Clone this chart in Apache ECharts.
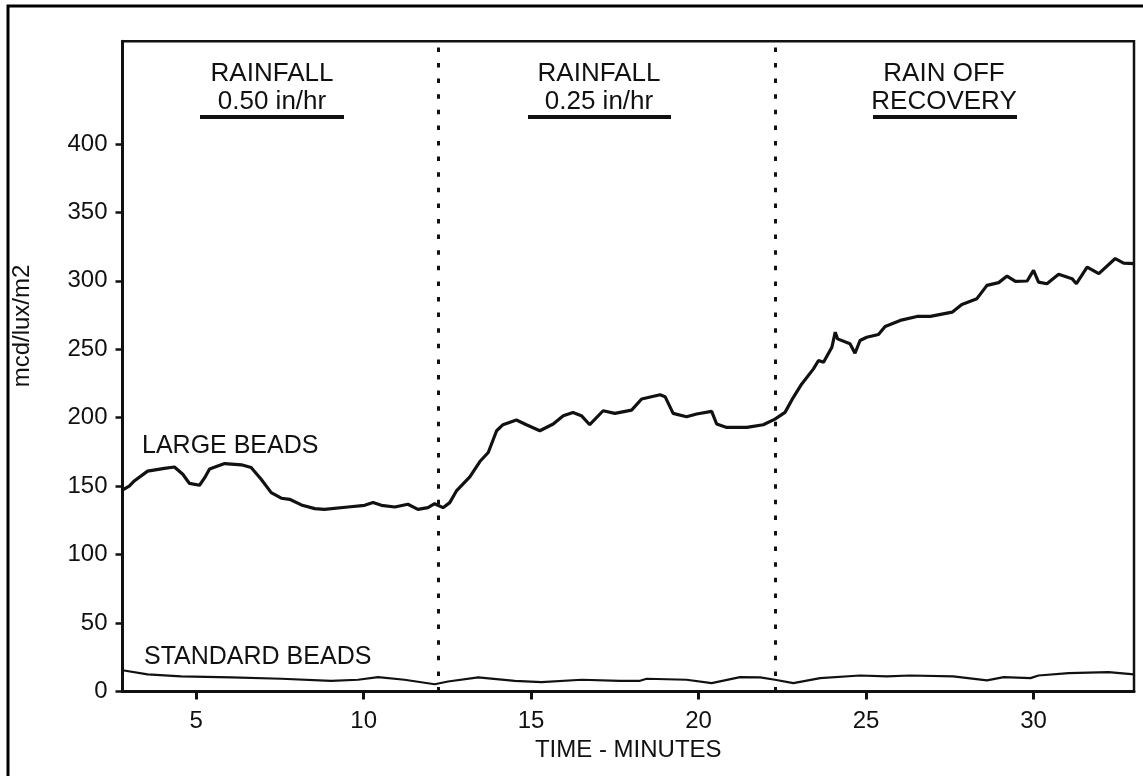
<!DOCTYPE html>
<html>
<head>
<meta charset="utf-8">
<script src="https://cdn.jsdelivr.net/npm/echarts@6/dist/echarts.min.js"></script>
<style>
html,body{margin:0;padding:0;background:#fff;}
#chart{width:1143px;height:776px;}
</style>
</head>
<body>
<div id="chart"></div>
<script>
// ---- data ----
var largeT = [2.78,3.0,3.16,3.55,4.05,4.35,4.6,4.8,5.1,5.25,5.4,5.85,6.35,6.64,6.94,7.24,7.54,7.79,8.14,8.54,8.83,9.53,10.03,10.28,10.53,10.93,11.32,11.62,11.92,12.12,12.37,12.57,12.77,13.17,13.47,13.72,13.97,14.16,14.56,14.86,15.26,15.66,15.96,16.25,16.5,16.75,17.15,17.5,18.0,18.3,18.85,19.0,19.24,19.64,19.94,20.39,20.54,20.84,21.44,21.93,22.28,22.58,22.83,23.08,23.43,23.58,23.73,23.98,24.08,24.15,24.52,24.67,24.82,25.02,25.37,25.57,26.02,26.52,26.92,27.57,27.86,28.31,28.61,28.96,29.21,29.46,29.81,30.0,30.15,30.4,30.75,31.15,31.28,31.6,31.95,32.44,32.69,33.0];
var largeV = [147,150,154,161,163,164,158.7,152,150.7,156,162.6,166.5,165.6,163.6,155,145.3,141.2,140.4,136.3,133.6,133.1,134.8,136,138,136,134.8,136.8,133.1,134.3,137.2,134.3,138,146.5,156.8,168,174.6,190.5,194.9,198.3,194.9,190.5,195.4,201.5,203.9,201.5,194.9,205.1,203.2,205.6,213.7,216.8,215.4,203.2,200.7,202.7,204.6,195.4,192.9,192.9,194.9,199,203.9,214.9,224.7,235.7,241.8,240.5,251.5,262.5,257.6,254,247.1,256.4,258.8,260.8,266.7,271.1,274,274,277.1,282.8,287,296.7,298.7,303.5,299.6,299.9,307.7,299.1,297.9,304.8,301.6,297.9,310.1,305.3,316.3,313,312.6];
var stdT = [2.8,3.55,4.55,6.05,7.54,9.03,9.83,10.43,11.22,12.12,12.52,13.42,14.51,15.31,16.51,17.65,18.25,18.45,19.64,20.39,21.24,21.84,22.28,22.83,23.63,24.82,25.62,26.31,27.6,28.61,29.11,29.91,30.15,31.05,32.24,33.0];
var stdV = [15.5,12.5,11,10.3,9.3,7.8,8.6,10.5,8.6,5.3,7.3,10.3,7.8,6.8,8.6,7.8,7.8,9.3,8.6,6.1,10.5,10.3,8.6,6.1,9.8,11.7,11,11.7,11,8.1,10.5,9.8,11.7,13.4,14.1,12.5];
var dividerTimes = [12.22, 22.28];
var xTicks = [5,10,15,20,25,30];
var yTicks = [0,50,100,150,200,250,300,350,400];
var seriesNames = ['LARGE BEADS','STANDARD BEADS'];
var headers = [['RAINFALL','0.50 in/hr'],['RAINFALL','0.25 in/hr'],['RAIN OFF','RECOVERY']];
var xTitle = 'TIME - MINUTES';
var yTitle = 'mcd/lux/m2';

function pairs(t, v){ return t.map(function(x,i){ return [x, v[i]]; }); }

var FONT = '"Liberation Sans", Arial, sans-serif';
var INK = '#111';
var chart = echarts.init(document.getElementById('chart'), null, {renderer:'canvas'});

var headerCenters = [272, 599, 944];
var underline = [[200,344],[528,671],[873,1017]];
var graphics = [
  {type:'rect', shape:{x:8, y:6, width:1200, height:900}, style:{fill:'none', stroke:'#000', lineWidth:3}, z:100},
  {type:'text', x:22, y:326, rotation:Math.PI/2, style:{text:yTitle, font:'24px '+FONT, fill:INK, textAlign:'center', textVerticalAlign:'middle'}},
  {type:'text', x:142, y:446, style:{text:seriesNames[0], font:'25px '+FONT, fill:INK, textAlign:'left', textVerticalAlign:'middle'}},
  {type:'text', x:144, y:657, style:{text:seriesNames[1], font:'25px '+FONT, fill:INK, textAlign:'left', textVerticalAlign:'middle'}}
];
headers.forEach(function(h, i){
  graphics.push({type:'text', x:headerCenters[i], y:74, style:{text:h[0], font:'26px '+FONT, fill:INK, textAlign:'center', textVerticalAlign:'middle'}});
  graphics.push({type:'text', x:headerCenters[i], y:101.5, style:{text:h[1], font:'26px '+FONT, fill:INK, textAlign:'center', textVerticalAlign:'middle'}});
  graphics.push({type:'line', shape:{x1:underline[i][0], y1:117, x2:underline[i][1], y2:117}, style:{stroke:INK, lineWidth:4}});
});

chart.setOption({
  animation:false,
  backgroundColor:'#fff',
  grid:{left:122.5, right:9, top:41.3, bottom:84.5, show:true, borderColor:INK, borderWidth:2.5, containLabel:false},
  xAxis:{
    type:'value', min:2.8, max:33,
    name:xTitle, nameLocation:'middle', nameGap:43,
    nameTextStyle:{fontSize:24, fontFamily:FONT, color:INK},
    axisLine:{show:true, onZero:false, lineStyle:{color:INK, width:3}},
    axisTick:{show:true, customValues:xTicks, length:8, lineStyle:{color:INK, width:3}},
    axisLabel:{customValues:xTicks, fontSize:24, fontFamily:FONT, color:INK, margin:18},
    splitLine:{show:false}
  },
  yAxis:{
    type:'value', min:0, max:475,
    axisLine:{show:true, lineStyle:{color:INK, width:3}},
    axisTick:{show:true, customValues:yTicks, length:7, lineStyle:{color:INK, width:2.5}},
    axisLabel:{customValues:yTicks, fontSize:24, fontFamily:FONT, color:INK, margin:15},
    splitLine:{show:false}
  },
  series:[
    {name:seriesNames[0], type:'line', data:pairs(largeT, largeV), showSymbol:false, symbol:'none',
     lineStyle:{color:INK, width:3.2}, z:5,
     markLine:{symbol:'none', silent:true, label:{show:false},
       lineStyle:{color:INK, width:3, type:[4.5,11.1]},
       data:dividerTimes.map(function(t){ return {xAxis:t}; })}},
    {name:seriesNames[1], type:'line', data:pairs(stdT, stdV), showSymbol:false, symbol:'none',
     lineStyle:{color:INK, width:2.2}, z:5}
  ],
  graphic:graphics
});
</script>
</body>
</html>
